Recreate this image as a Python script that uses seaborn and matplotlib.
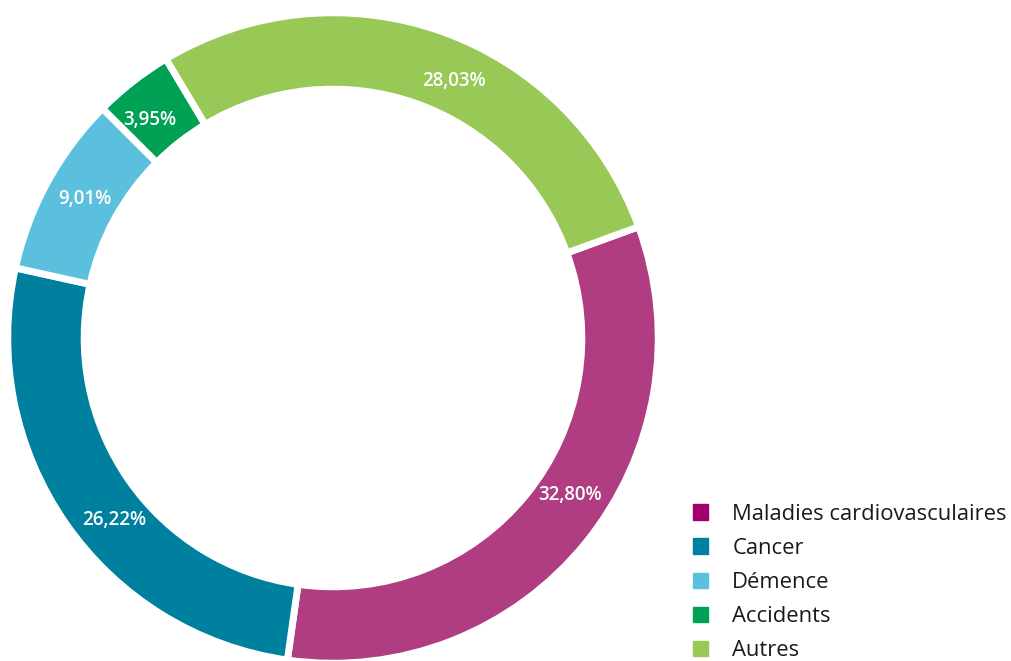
import numpy as np
import matplotlib
matplotlib.use("Agg")
import matplotlib.pyplot as plt
import matplotlib.patches as mpatches
import seaborn as sns

# Données
categories = ['Maladies cardiovasculaires', 'Cancer', 'Démence', 'Accidents', 'Autres']
valeurs = [32.80, 26.22, 9.01, 3.95, 28.03]
couleurs_anneau = ['#B03C82', '#00809F', '#5BC0DE', '#00A055', '#98C856']
couleurs_legende = ['#A3006E', '#00809F', '#5BC0DE', '#00A055', '#98C856']

# petits décalages angulaires des étiquettes (en degrés), comme dans l'original
decalage_etiquettes = [5.5, 5, -0.6, 2, -5.7]

sns.set_theme(style="white")
plt.rcParams['font.family'] = ['Open Sans', 'DejaVu Sans']

fig = plt.figure(figsize=(10.12, 6.61), dpi=100)
ax = fig.add_axes([11 / 1012, 1 / 661, 644 / 1012, 644 / 661])

largeur = 0.235
wedges, _ = ax.pie(valeurs, startangle=20, counterclock=False, radius=1,
                   colors=couleurs_anneau,
                   wedgeprops=dict(width=largeur, edgecolor='white', linewidth=5))

# Étiquettes dans l'anneau
r_txt = 0.875
for w, v, d in zip(wedges, valeurs, decalage_etiquettes):
    ang = np.deg2rad((w.theta1 + w.theta2) / 2 + d)
    ax.text(r_txt * np.cos(ang), r_txt * np.sin(ang), f"{v:.2f}%".replace('.', ','),
            ha='center', va='center', color='white', fontsize=13.5, fontweight='semibold')

ax.set_xlim(-0.99, 0.99)
ax.set_ylim(-0.99, 0.99)
ax.set_aspect('equal')
ax.axis('off')

handles = [mpatches.Patch(color=c, label=l) for c, l in zip(couleurs_legende, categories)]
fig.legend(handles=handles, loc='upper left', bbox_to_anchor=(0.665, 0.268),
           frameon=False, fontsize=15.8, handlelength=0.7, handleheight=0.7,
           handletextpad=1.1, labelspacing=0.6, labelcolor='#1a1a1a')

fig.savefig("out.png", dpi=100)
